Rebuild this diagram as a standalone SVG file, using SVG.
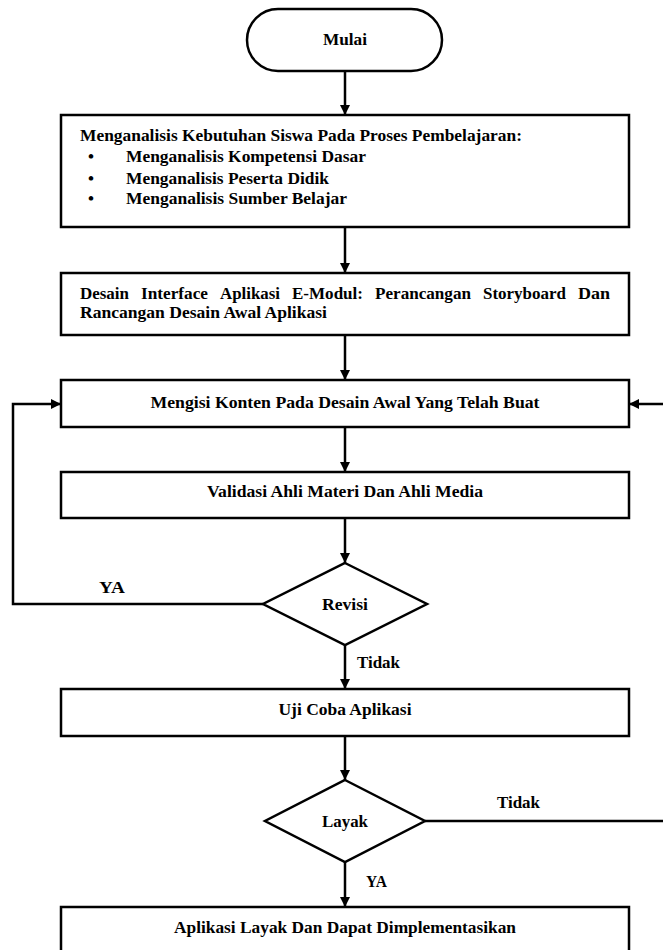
<svg xmlns="http://www.w3.org/2000/svg" width="663" height="950" viewBox="0 0 663 950">
<defs>
<marker id="ah" viewBox="0 0 10 10" refX="10" refY="5" markerWidth="10" markerHeight="10" markerUnits="userSpaceOnUse" orient="auto">
<path d="M0,0 L10,5 L0,10 z" fill="#000"/>
</marker>
<style>
.n{fill:#fff;stroke:#000;stroke-width:2.5}
.c{fill:none;stroke:#000;stroke-width:2.5}
.t{font-family:"Liberation Serif","Times New Roman",serif;font-weight:bold;font-size:17px;fill:#000}
.m{text-anchor:middle}
</style>
</defs>
<rect width="663" height="950" fill="#fff"/>
<g id="connectors">
<line class="c" x1="345" y1="71" x2="345" y2="115" marker-end="url(#ah)"/>
<line class="c" x1="345" y1="227" x2="345" y2="273" marker-end="url(#ah)"/>
<line class="c" x1="345" y1="335" x2="345" y2="380" marker-end="url(#ah)"/>
<line class="c" x1="345" y1="427" x2="345" y2="472" marker-end="url(#ah)"/>
<line class="c" x1="345" y1="518" x2="345" y2="563" marker-end="url(#ah)"/>
<line class="c" x1="345" y1="645" x2="345" y2="689" marker-end="url(#ah)"/>
<line class="c" x1="345" y1="736" x2="345" y2="780" marker-end="url(#ah)"/>
<line class="c" x1="345" y1="862" x2="345" y2="907" marker-end="url(#ah)"/>
<polyline class="c" points="263,604 13,604 13,404 61,404" marker-end="url(#ah)"/>
<line class="c" x1="425" y1="821" x2="665" y2="821"/>
<line class="c" x1="665" y1="404" x2="629" y2="404" marker-end="url(#ah)"/>
<text class="t" x="99" y="593" textLength="26" lengthAdjust="spacingAndGlyphs">YA</text>
<text class="t" x="357" y="668" textLength="43" lengthAdjust="spacingAndGlyphs">Tidak</text>
<text class="t" x="497" y="808" textLength="43" lengthAdjust="spacingAndGlyphs">Tidak</text>
<text class="t" x="366" y="887" textLength="21" lengthAdjust="spacingAndGlyphs">YA</text>
</g>
<g id="mulai">
<rect class="n" x="247" y="9" width="195" height="62" rx="31" ry="31"/>
<text class="t m" x="345" y="45" textLength="44" lengthAdjust="spacingAndGlyphs">Mulai</text>
</g>
<g id="analisis">
<rect class="n" x="61" y="115" width="568" height="112"/>
<text class="t" x="80" y="141" textLength="442" lengthAdjust="spacingAndGlyphs">Menganalisis Kebutuhan Siswa Pada Proses Pembelajaran:</text>
<text class="t m" x="91" y="162">•</text>
<text class="t" x="126" y="162" textLength="240" lengthAdjust="spacingAndGlyphs">Menganalisis Kompetensi Dasar</text>
<text class="t m" x="91" y="184">•</text>
<text class="t" x="126" y="184" textLength="203" lengthAdjust="spacingAndGlyphs">Menganalisis Peserta Didik</text>
<text class="t m" x="91" y="204">•</text>
<text class="t" x="126" y="204" textLength="221" lengthAdjust="spacingAndGlyphs">Menganalisis Sumber Belajar</text>
</g>
<g id="desain">
<rect class="n" x="61" y="273" width="568" height="62"/>
<text class="t" y="299"><tspan x="80" textLength="49" lengthAdjust="spacingAndGlyphs">Desain</tspan><tspan x="141" textLength="67" lengthAdjust="spacingAndGlyphs">Interface</tspan><tspan x="220" textLength="60" lengthAdjust="spacingAndGlyphs">Aplikasi</tspan><tspan x="292" textLength="71" lengthAdjust="spacingAndGlyphs">E-Modul:</tspan><tspan x="375" textLength="96" lengthAdjust="spacingAndGlyphs">Perancangan</tspan><tspan x="483" textLength="83" lengthAdjust="spacingAndGlyphs">Storyboard</tspan><tspan x="578" textLength="32" lengthAdjust="spacingAndGlyphs">Dan</tspan></text>
<text class="t" x="80" y="318" textLength="247" lengthAdjust="spacingAndGlyphs">Rancangan Desain Awal Aplikasi</text>
</g>
<g id="mengisi">
<rect class="n" x="61" y="380" width="568" height="47"/>
<text class="t m" x="345" y="408" textLength="389" lengthAdjust="spacingAndGlyphs">Mengisi Konten Pada Desain Awal Yang Telah Buat</text>
</g>
<g id="validasi">
<rect class="n" x="61" y="472" width="568" height="46"/>
<text class="t m" x="345" y="497" textLength="276" lengthAdjust="spacingAndGlyphs">Validasi Ahli Materi Dan Ahli Media</text>
</g>
<g id="revisi">
<polygon class="n" points="345,563 427,604 345,645 263,604"/>
<text class="t m" x="345" y="610" textLength="46" lengthAdjust="spacingAndGlyphs">Revisi</text>
</g>
<g id="ujicoba">
<rect class="n" x="61" y="689" width="568" height="47"/>
<text class="t m" x="345" y="715" textLength="133" lengthAdjust="spacingAndGlyphs">Uji Coba Aplikasi</text>
</g>
<g id="layak">
<polygon class="n" points="345,780 425,821 345,862 265,821"/>
<text class="t m" x="345" y="827" textLength="46" lengthAdjust="spacingAndGlyphs">Layak</text>
</g>
<g id="implementasi">
<rect class="n" x="61" y="907" width="568" height="60"/>
<text class="t m" x="345" y="933" textLength="342" lengthAdjust="spacingAndGlyphs">Aplikasi Layak Dan Dapat Dimplementasikan</text>
</g>
</svg>
